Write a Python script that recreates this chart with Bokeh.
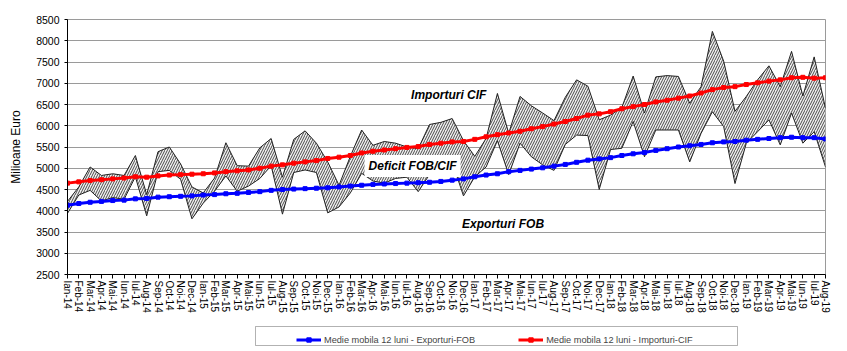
from bokeh.plotting import figure
from bokeh.layouts import column
from bokeh.models import (Range1d, FixedTicker, Label, Legend, LegendItem,
                          ColumnDataSource, BoxAnnotation)
from bokeh.embed import file_html
from bokeh.resources import INLINE

months = [
    "Ian-14", "Feb-14", "Mar-14", "Apr-14", "Mai-14", "Iun-14", "Iul-14", "Aug-14", "Sep-14", "Oct-14", "Noi-14", "Dec-14",
    "Ian-15", "Feb-15", "Mar-15", "Apr-15", "Mai-15", "Iun-15", "Iul-15", "Aug-15", "Sep-15", "Oct-15", "Noi-15", "Dec-15",
    "Ian-16", "Feb-16", "Mar-16", "Apr-16", "Mai-16", "Iun-16", "Iul-16", "Aug-16", "Sep-16", "Oct-16", "Noi-16", "Dec-16",
    "Ian-17", "Feb-17", "Mar-17", "Apr-17", "Mai-17", "Iun-17", "Iul-17", "Aug-17", "Sep-17", "Oct-17", "Noi-17", "Dec-17",
    "Ian-18", "Feb-18", "Mar-18", "Apr-18", "Mai-18", "Iun-18", "Iul-18", "Aug-18", "Sep-18", "Oct-18", "Noi-18", "Dec-18",
    "Ian-19", "Feb-19", "Mar-19", "Apr-19", "Mai-19", "Iun-19", "Iul-19", "Aug-19",
]

imports_cif = [
    4220, 4560, 5030, 4830, 4870, 4830, 5300, 4380, 5390, 5500, 5100, 4560,
    4420, 4770, 5600, 5060, 5050, 5480, 5700, 4790, 5680, 5880, 5590, 5150,
    4600, 5280, 5900, 5540, 5630, 5590, 5500, 5460, 6030, 6080, 6170, 5650,
    5280, 5700, 6760, 5820, 6690, 6470, 6300, 6120, 6670, 7080, 6930, 6140,
    6250, 6430, 7170, 6300, 7150, 7180, 7160, 6530, 6920, 8220, 7520, 6340,
    6690, 7080, 7410, 6920, 7750, 6700, 7620, 6410,
]

exports_fob = [
    3940, 4370, 4480, 4230, 4310, 4270, 4800, 3880, 4920, 4950, 4740, 3810,
    4180, 4460, 4820, 4460, 4580, 4760, 5060, 3920, 4900, 4960, 4900, 3950,
    4090, 4420, 4880, 4700, 4650, 4760, 4790, 4450, 4850, 4950, 5150, 4350,
    4800, 5030, 5650, 4850, 5590, 5270, 5080, 4950, 5560, 5780, 5770, 4500,
    5440, 5470, 6100, 5270, 5900, 5900, 5900, 5150, 5820, 6330, 5980, 4640,
    5590, 5860, 6140, 5550, 6300, 5590, 5860, 5030,
]

ma_imports = [
    4650, 4680, 4710, 4730, 4750, 4770, 4800, 4790, 4820, 4840, 4850, 4860,
    4870, 4890, 4920, 4940, 4960, 5000, 5050, 5080, 5120, 5150, 5180, 5230,
    5260, 5300, 5360, 5400, 5430, 5460, 5490, 5510, 5560, 5590, 5620, 5630,
    5680, 5740, 5790, 5830, 5870, 5930, 5980, 6040, 6100, 6170, 6250, 6280,
    6330, 6400, 6450, 6500, 6560, 6600, 6650, 6700, 6770, 6850, 6900, 6920,
    6970, 7010, 7050, 7080, 7130, 7140, 7120, 7130,
]

ma_exports = [
    4130, 4170, 4200, 4220, 4240, 4250, 4280, 4290, 4320, 4330, 4340, 4350,
    4370, 4380, 4400, 4410, 4430, 4450, 4480, 4500, 4510, 4520, 4530, 4540,
    4560, 4580, 4600, 4620, 4630, 4640, 4650, 4660, 4670, 4690, 4720, 4750,
    4800, 4840, 4870, 4920, 4950, 4980, 5010, 5050, 5090, 5140, 5190, 5220,
    5250, 5300, 5340, 5370, 5420, 5460, 5500, 5530, 5560, 5600, 5620, 5630,
    5660, 5680, 5700, 5720, 5730, 5720, 5720, 5690,
]

y_ticks = [2500, 3000, 3500, 4000, 4500, 5000, 5500, 6000, 6500, 7000, 7500, 8000, 8500]

legend_labels = ["Medie mobila 12 luni - Exporturi-FOB", "Medie mobila 12 luni - Importuri-CIF"]

FONT = "Liberation Sans"
BLUE = "#0000ff"
RED = "#ff0000"

idx = list(range(len(months)))
src = ColumnDataSource(dict(x=idx, exp=exports_fob, imp=imports_cif,
                            mae=ma_exports, mai=ma_imports))

# ---------------- main chart ----------------
p = figure(width=847, height=320, output_backend="svg", toolbar_location=None,
           x_range=Range1d(0, len(months) - 1), y_range=Range1d(y_ticks[0], y_ticks[-1]),
           min_border_left=67, min_border_right=22, min_border_top=19, min_border_bottom=46)
p.background_fill_color = "white"
p.border_fill_color = "white"
p.outline_line_color = "#9a9a9a"

# hatched deficit area between exports and imports
p.varea(x="x", y1="exp", y2="imp", source=src, fill_color="#f0f0f0",
        hatch_pattern="/", hatch_color="#4a4a4a", hatch_scale=5, hatch_weight=1)
p.line(x="x", y="imp", source=src, line_color="#202020", line_width=1)
p.line(x="x", y="exp", source=src, line_color="#202020", line_width=1)

# moving averages
p.line(x="x", y="mae", source=src, line_color=BLUE, line_width=3)
p.scatter(x="x", y="mae", source=src, marker="square", size=4,
          fill_color=BLUE, line_color=BLUE)
p.line(x="x", y="mai", source=src, line_color=RED, line_width=3)
p.scatter(x="x", y="mai", source=src, marker="square", size=4,
          fill_color=RED, line_color=RED)

# axes
p.xaxis.ticker = FixedTicker(ticks=idx)
p.xaxis.major_label_overrides = {i: m for i, m in enumerate(months)}
p.xaxis.major_label_orientation = "vertical"
p.xaxis.major_label_text_font = FONT
p.xaxis.major_label_text_font_size = "10px"
p.xaxis.major_label_text_color = "black"
p.xaxis.major_label_standoff = 2
p.xaxis.major_tick_out = 4
p.xaxis.major_tick_in = 0
p.xaxis.minor_tick_line_color = None
p.xaxis.axis_line_color = "black"
p.xaxis.major_tick_line_color = "black"

p.yaxis.ticker = FixedTicker(ticks=y_ticks)
p.yaxis.major_label_text_font = FONT
p.yaxis.major_label_text_font_size = "10.5px"
p.yaxis.major_label_text_color = "black"
p.yaxis.major_label_standoff = 5
p.yaxis.major_tick_out = 3
p.yaxis.major_tick_in = 0
p.yaxis.minor_tick_line_color = None
p.yaxis.axis_line_color = "black"
p.yaxis.major_tick_line_color = "black"
p.yaxis.axis_label = "Milioane Euro"
p.yaxis.axis_label_text_font = FONT
p.yaxis.axis_label_text_font_size = "12px"
p.yaxis.axis_label_text_font_style = "normal"
p.yaxis.axis_label_text_color = "black"
p.yaxis.axis_label_standoff = 10

p.xgrid.visible = False
p.ygrid.grid_line_color = "#9a9a9a"
p.ygrid.grid_line_width = 1

# annotations
for txt, xx, yy, bg in [("Importuri CIF", 33.7, 6728, None),
                        ("Deficit FOB/CIF", 30.5, 5051, "white"),
                        ("Exporturi FOB", 38.5, 3681, None)]:
    lab = Label(x=xx, y=yy, text=txt, text_align="center", text_baseline="middle",
                text_font=FONT, text_font_size="12px", text_font_style="bold italic",
                text_color="black")
    if bg:
        lab.background_fill_color = bg
        lab.padding = 4
    p.add_layout(lab)

# ---------------- legend strip ----------------
lg = figure(width=847, height=31, output_backend="svg", toolbar_location=None,
            x_range=Range1d(1000, 1001), y_range=Range1d(0, 1),
            x_axis_location=None, y_axis_location=None,
            min_border_left=0, min_border_right=0, min_border_top=0, min_border_bottom=0)
lg.outline_line_color = None
lg.background_fill_color = "white"
lg.border_fill_color = "white"
lg.grid.visible = False

bl = lg.line(x="x", y="mae", source=src, line_color=BLUE, line_width=3)
bs = lg.scatter(x="x", y="mae", source=src, marker="square", size=4,
                fill_color=BLUE, line_color=BLUE)
rl = lg.line(x="x", y="mai", source=src, line_color=RED, line_width=3)
rs = lg.scatter(x="x", y="mai", source=src, marker="square", size=4,
                fill_color=RED, line_color=RED)

# frames of the column are aligned, so the strip's frame starts at x=67
legend = Legend(items=[
    LegendItem(label=legend_labels[0], renderers=[bl, bs]),
    LegendItem(label=legend_labels[1], renderers=[rl, rs]),
], orientation="horizontal", location=(229, 6), padding=4, spacing=43,
    glyph_width=25, glyph_height=11, label_height=11, label_standoff=3,
    label_text_font=FONT, label_text_font_size="9.2px",
    border_line_color=None, background_fill_alpha=0, margin=0)
lg.add_layout(legend, "center")

lg.add_layout(BoxAnnotation(left=188, right=670, bottom=6, top=25,
                            left_units="screen", right_units="screen",
                            top_units="screen", bottom_units="screen",
                            fill_alpha=0, line_color="black", line_width=1))

layout = column(p, lg, spacing=0)
open("out.html", "w").write(file_html(layout, INLINE))
